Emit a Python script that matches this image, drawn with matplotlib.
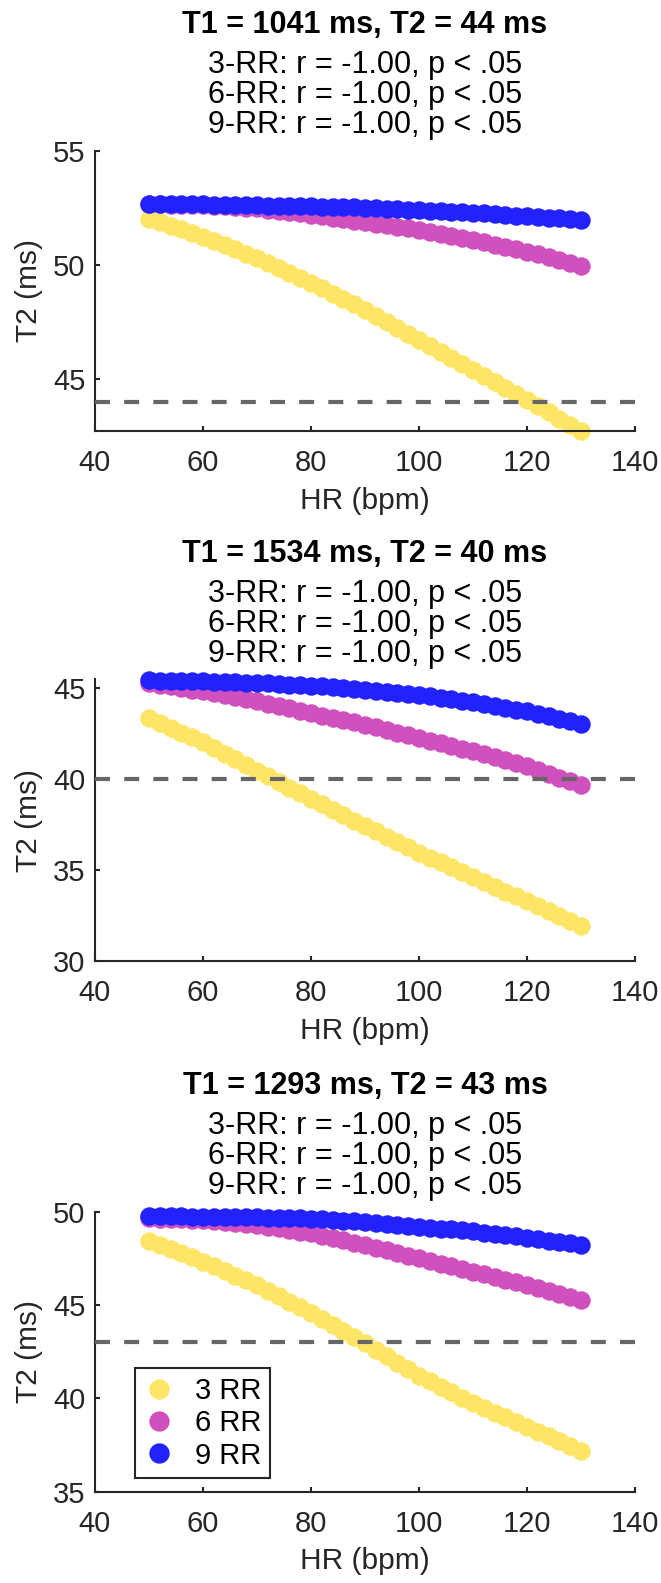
"""
T2 estimate versus heart rate for three T1/T2 phantoms, with 3-, 6- and 9-RR
acquisition schemes. Dashed line marks the reference T2.

Output: out.png
"""
import matplotlib
matplotlib.use('Agg')
import matplotlib.pyplot as plt
from matplotlib.transforms import offset_copy

plt.rcParams['font.family'] = ['Liberation Sans', 'DejaVu Sans']

hr = [50, 52, 54, 56, 58, 60, 62, 64, 66, 68, 70, 72, 74, 76, 78, 80, 82, 84,
      86, 88, 90, 92, 94, 96, 98, 100, 102, 104, 106, 108, 110, 112, 114, 116,
      118, 120, 122, 124, 126, 128, 130]

# panel 1: T1 = 1041 ms, T2 = 44 ms
p1_3rr = [52.00, 51.86, 51.71, 51.56, 51.40, 51.24, 51.06, 50.87, 50.68, 50.49,
          50.29, 50.08, 49.86, 49.64, 49.42, 49.20, 48.97, 48.74, 48.50, 48.27,
          48.03, 47.77, 47.51, 47.25, 46.98, 46.72, 46.46, 46.19, 45.93, 45.66,
          45.40, 45.14, 44.88, 44.62, 44.36, 44.10, 43.82, 43.54, 43.26, 42.98,
          42.70]
p1_6rr = [52.65, 52.65, 52.64, 52.64, 52.63, 52.62, 52.59, 52.56, 52.53, 52.50,
          52.47, 52.42, 52.36, 52.31, 52.25, 52.19, 52.13, 52.07, 52.01, 51.94,
          51.88, 51.81, 51.74, 51.67, 51.60, 51.53, 51.45, 51.36, 51.28, 51.19,
          51.10, 51.00, 50.89, 50.79, 50.68, 50.58, 50.46, 50.33, 50.21, 50.08,
          49.96]
p1_9rr = [52.67, 52.67, 52.66, 52.66, 52.65, 52.65, 52.64, 52.63, 52.62, 52.61,
          52.60, 52.59, 52.58, 52.57, 52.56, 52.56, 52.55, 52.54, 52.53, 52.52,
          52.50, 52.48, 52.46, 52.44, 52.42, 52.40, 52.38, 52.35, 52.32, 52.30,
          52.28, 52.25, 52.22, 52.19, 52.16, 52.13, 52.10, 52.06, 52.03, 52.00,
          51.96]

# panel 2: T1 = 1534 ms, T2 = 40 ms
p2_3rr = [43.33, 43.07, 42.80, 42.54, 42.27, 42.00, 41.69, 41.38, 41.07, 40.76,
          40.45, 40.14, 39.83, 39.52, 39.21, 38.90, 38.60, 38.30, 38.00, 37.70,
          37.40, 37.11, 36.82, 36.53, 36.24, 35.95, 35.68, 35.41, 35.14, 34.87,
          34.60, 34.34, 34.07, 33.81, 33.54, 33.28, 33.01, 32.73, 32.46, 32.19,
          31.92]
p2_6rr = [45.26, 45.17, 45.08, 44.99, 44.90, 44.80, 44.69, 44.58, 44.47, 44.36,
          44.25, 44.12, 43.99, 43.86, 43.73, 43.60, 43.47, 43.35, 43.22, 43.10,
          42.97, 42.82, 42.68, 42.53, 42.39, 42.24, 42.09, 41.94, 41.80, 41.65,
          41.50, 41.34, 41.17, 41.01, 40.84, 40.68, 40.48, 40.28, 40.07, 39.87,
          39.67]
p2_9rr = [45.40, 45.39, 45.38, 45.37, 45.36, 45.35, 45.33, 45.32, 45.30, 45.28,
          45.26, 45.23, 45.20, 45.17, 45.14, 45.11, 45.07, 45.02, 44.98, 44.93,
          44.89, 44.84, 44.78, 44.73, 44.67, 44.62, 44.54, 44.45, 44.37, 44.28,
          44.20, 44.10, 44.00, 43.90, 43.80, 43.70, 43.56, 43.43, 43.29, 43.16,
          43.02]

# panel 3: T1 = 1293 ms, T2 = 43 ms
p3_3rr = [48.45, 48.23, 48.00, 47.78, 47.55, 47.32, 47.07, 46.82, 46.57, 46.32,
          46.07, 45.77, 45.47, 45.17, 44.87, 44.56, 44.24, 43.92, 43.59, 43.27,
          42.95, 42.60, 42.26, 41.91, 41.57, 41.22, 40.92, 40.62, 40.32, 40.03,
          39.74, 39.49, 39.24, 38.98, 38.73, 38.48, 38.22, 37.97, 37.71, 37.46,
          37.20]
p3_6rr = [49.64, 49.63, 49.61, 49.59, 49.57, 49.55, 49.50, 49.45, 49.40, 49.34,
          49.29, 49.20, 49.11, 49.02, 48.93, 48.84, 48.72, 48.59, 48.47, 48.34,
          48.22, 48.08, 47.93, 47.79, 47.64, 47.50, 47.36, 47.22, 47.07, 46.93,
          46.79, 46.65, 46.50, 46.36, 46.21, 46.07, 45.91, 45.75, 45.59, 45.43,
          45.27]
p3_9rr = [49.76, 49.76, 49.75, 49.75, 49.74, 49.74, 49.73, 49.72, 49.71, 49.70,
          49.69, 49.68, 49.67, 49.65, 49.64, 49.62, 49.59, 49.56, 49.52, 49.48,
          49.44, 49.40, 49.35, 49.30, 49.25, 49.20, 49.15, 49.10, 49.05, 49.00,
          48.95, 48.88, 48.81, 48.75, 48.68, 48.61, 48.53, 48.45, 48.38, 48.30,
          48.22]

titles = ['T1 = 1041 ms, T2 = 44 ms', 'T1 = 1534 ms, T2 = 40 ms',
          'T1 = 1293 ms, T2 = 43 ms']
stats = [['3-RR: r = -1.00, p < .05', '6-RR: r = -1.00, p < .05',
          '9-RR: r = -1.00, p < .05']] * 3
ref_t2 = [44, 40, 43]
series = [[p1_3rr, p1_6rr, p1_9rr], [p2_3rr, p2_6rr, p2_9rr],
          [p3_3rr, p3_6rr, p3_9rr]]
labels = ['3 RR', '6 RR', '9 RR']
colors = ['#FFE566', '#D050BE', '#2222FF']
ylims = [(42.72, 55), (30, 45.46), (35, 50)]
yticks = [[45, 50, 55], [30, 35, 40, 45], [35, 40, 45, 50]]

W, H = 661, 1583
fig = plt.figure(figsize=(W / 100, H / 100), dpi=100)
# axes boxes in pixels: left, top, right, bottom
boxes = [(95, 150.7, 635, 431), (95, 679.3, 635, 961), (95, 1211.7, 635, 1491.7)]

for i in range(3):
    l, t, r, b = boxes[i]
    ax = fig.add_axes([l / W, 1 - b / H, (r - l) / W, (b - t) / H])
    for ys, c, lab in zip(series[i], colors, labels):
        ax.plot(hr, ys, 'o', ms=13.3, color=c, mec=c, mew=0, label=lab,
                zorder=2, clip_on=False)
    ax.axhline(ref_t2[i], color='#666666', lw=3.0, dashes=(3.6, 3.4), zorder=3)

    ax.set_xlim(40, 140)
    ax.set_xticks([40, 60, 80, 100, 120, 140])
    ax.set_ylim(*ylims[i])
    ax.set_yticks(yticks[i])
    for s in ['top', 'right']:
        ax.spines[s].set_visible(False)
    for s in ['left', 'bottom']:
        ax.spines[s].set_color('#262626')
        ax.spines[s].set_linewidth(1.5)
    ax.tick_params(direction='in', length=3.6, width=1.5, color='#262626',
                   labelsize=21, labelcolor='#262626')
    ax.tick_params(axis='x', pad=13)
    ax.tick_params(axis='y', pad=7)
    ax.set_xlabel('HR (bpm)', fontsize=21.5, color='#262626', labelpad=7)
    ax.set_ylabel('T2 (ms)', fontsize=21.5, color='#262626', labelpad=7)

    # bold title line plus three stats lines, offsets in pixels above the axes
    ax.text(0.5, 1, titles[i], ha='center', va='baseline', fontsize=22,
            fontweight='bold', transform=offset_copy(ax.transAxes, fig=fig, y=117.4, units='dots'))
    for k, off in enumerate([77.4, 47.4, 17.4]):
        ax.text(0.5, 1, stats[i][k], ha='center', va='baseline', fontsize=22,
                transform=offset_copy(ax.transAxes, fig=fig, y=off, units='dots'))

    if i == 2:
        leg = ax.legend(loc='lower left', bbox_to_anchor=(0.074, 0.048),
                        borderaxespad=0, fontsize=21, fancybox=False,
                        edgecolor='#262626', framealpha=1, borderpad=0.3,
                        handlelength=1.05, handletextpad=0.7, labelspacing=0.15,
                        markerscale=1.1)
        leg.get_frame().set_linewidth(1.5)

fig.savefig('out.png', dpi=100)
